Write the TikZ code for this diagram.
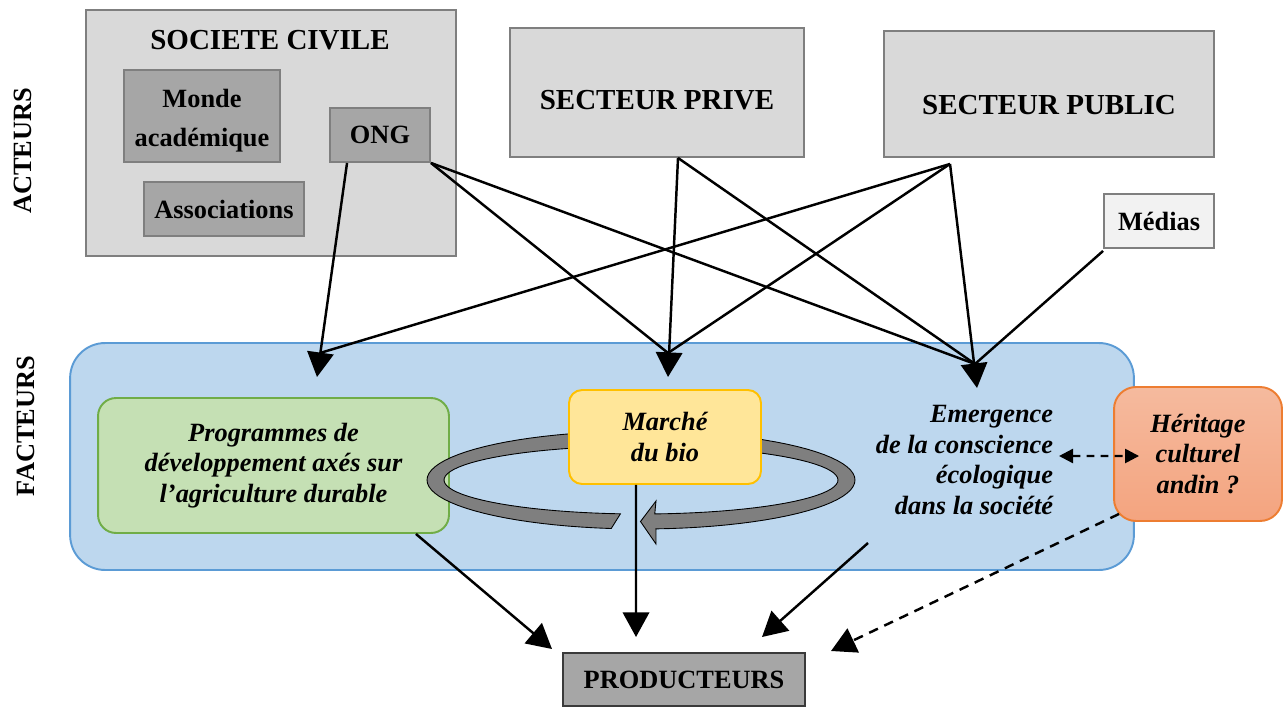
\documentclass[tikz,border=0pt]{standalone}
\usepackage{fontspec}
\setmainfont{Liberation Serif}
\usepackage{tikz}
\usetikzlibrary{arrows.meta,positioning,calc}
\definecolor{actline}{HTML}{7F7F7F}
\definecolor{actfill}{HTML}{D9D9D9}
\definecolor{subfill}{HTML}{A6A6A6}
\definecolor{mediafill}{HTML}{F2F2F2}
\definecolor{prodline}{HTML}{3A3A3A}
\definecolor{bluefill}{HTML}{BDD7EE}
\definecolor{blueline}{HTML}{5B9BD5}
\definecolor{greenfill}{HTML}{C5E0B4}
\definecolor{greenline}{HTML}{70AD47}
\definecolor{yellowfill}{HTML}{FFE699}
\definecolor{yellowline}{HTML}{FFC000}
\definecolor{orangetop}{HTML}{F5BA9E}
\definecolor{orangebot}{HTML}{F4A47F}
\definecolor{orangeline}{HTML}{ED7D31}
\definecolor{ringgray}{HTML}{7F7F7F}
\tikzset{
  >={Triangle[length=14pt,width=15pt]},
  flow/.style={->,draw=black,line width=1.4pt},
  link/.style={draw=black,line width=1.4pt},
  dashedflow/.style={->,draw=black,line width=1.4pt,dash pattern=on 5.5pt off 4pt},
  dblflow/.style={{Triangle[length=8pt,width=8pt]}-{Triangle[length=8pt,width=8pt]},
                  draw=black,line width=1.4pt,dash pattern=on 4.5pt off 3.5pt},
  actor/.style={draw=actline,fill=actfill,line width=1.1pt,inner sep=0pt,align=center,
                font=\fontsize{16.5}{19}\selectfont\bfseries},
  subactor/.style={actor,fill=subfill,font=\fontsize{15}{22.5}\selectfont\bfseries},
  factor/.style={line width=1.1pt,inner sep=0pt,align=center,
                 font=\fontsize{15}{17.5}\selectfont\bfseries\itshape},
  sidelabel/.style={rotate=90,font=\fontsize{15}{17}\selectfont\bfseries},
  ring/.style={fill=ringgray,draw=black,line width=0.5pt},
}

\begin{document}
\begin{tikzpicture}[x=0.02cm,y=-0.02cm]
  \useasboundingbox (0,0) rectangle (1283,706);

  % acteurs
  \node[sidelabel] (lblact) at (23,151) {ACTEURS};
  \node[actor,minimum width=7.4cm,minimum height=4.92cm] (civile) at (271,133) {};
  \node[actor,draw=none,fill=none] (civtitle) at (270,40) {SOCIETE CIVILE};
  \node[subactor,minimum width=3.12cm,minimum height=1.84cm,text height=38.4pt] (monde) at (202,116) {Monde\\académique};
  \node[subactor,minimum width=2cm,minimum height=1.08cm] (ong) at (380,135) {ONG};
  \node[subactor,minimum width=3.2cm,minimum height=1.08cm] (assoc) at (224,209) {Associations};
  \node[actor,minimum width=5.88cm,minimum height=2.58cm,text height=19.7pt] (prive) at (657,92.5) {SECTEUR PRIVE};
  \node[actor,minimum width=6.6cm,minimum height=2.52cm,text height=23.2pt] (public) at (1049,94) {SECTEUR PUBLIC};
  \node[subactor,fill=mediafill,minimum width=2.2cm,minimum height=1.08cm] (medias) at (1159,221) {Médias};

  % facteurs
  \node[sidelabel] (lblfac) at (26,426) {FACTEURS};
  \node[draw=blueline,fill=bluefill,line width=1.1pt,rounded corners=0.7cm,
        minimum width=21.28cm,minimum height=4.54cm] (facteurs) at (602,456.5) {};
  \node[factor,draw=greenline,fill=greenfill,rounded corners=0.36cm,
        minimum width=7.02cm,minimum height=2.7cm] (green) at (273.5,465.5)
        {Programmes de\\développement axés sur\\l’agriculture durable};
  \draw[ring] plot[domain=98:446,samples=90] ({641+214*cos(\x)},{480+49*sin(\x)})
    -- (656,544) -- (640.5,521.5) -- (656,501)
    -- plot[domain=446:96,samples=90] ({641+197*cos(\x)},{480+34*sin(\x)}) -- cycle;
  \node[factor,draw=yellowline,fill=yellowfill,rounded corners=0.26cm,
        minimum width=3.84cm,minimum height=1.88cm] (marche) at (665,437) {Marché\\du bio};
  \node[factor,align=right,anchor=east] (emerg) at (1054,460)
        {Emergence\\de la conscience\\écologique\\dans la société};
  \node[factor,draw=orangeline,top color=orangetop,bottom color=orangebot,rounded corners=0.44cm,
        minimum width=3.36cm,minimum height=2.68cm] (herit) at (1198,454) {Héritage\\culturel\\andin ?};
  \node[subactor,draw=prodline,line width=1.4pt,minimum width=4.84cm,minimum height=1.06cm] (prod)
        at (684,679.5) {PRODUCTEURS};

  \coordinate (tprog) at (317,377);
  \coordinate (bprog) at (320,353);
  \coordinate (tmarche) at (668,377);
  \coordinate (bmarche) at (668,353);
  \coordinate (temerg) at (977,388);
  \coordinate (bemerg) at (975,364);
  \coordinate (emfoot) at (868,543);
  \coordinate (tprodl) at (552,649);
  \coordinate (tprodm) at (636,637);
  \coordinate (tprodr) at (762,637);
  \coordinate (tprodh) at (831,651);

  % acteurs -> facteurs
  \draw[flow] ([xshift=0.36cm]ong.south west) -- (tprog);
  \draw[link] (ong.south east) -- (bmarche);
  \draw[link] (ong.south east) -- (bemerg);
  \draw[flow] ([xshift=0.42cm]prive.south) -- (tmarche);
  \draw[link] ([xshift=0.42cm]prive.south) -- (bemerg);
  \draw[link] ([xshift=-1.98cm,yshift=-0.12cm]public.south) -- (bprog);
  \draw[link] ([xshift=-1.98cm,yshift=-0.12cm]public.south) -- (bmarche);
  \draw[flow] ([xshift=-1.98cm,yshift=-0.12cm]public.south) -- (temerg);
  \draw[link] ([yshift=-0.04cm]medias.south west) -- (bemerg);

  % facteurs -> producteurs
  \draw[flow] ([xshift=-0.68cm]green.south east) -- (tprodl);
  \draw[flow] ([xshift=-0.58cm]marche.south) -- (tprodm);
  \draw[flow] (emfoot) -- (tprodr);
  \draw[dashedflow] ([xshift=0.12cm,yshift=0.16cm]herit.south west) -- (tprodh);
  \draw[dblflow] ([xshift=0.1cm,yshift=0.08cm]emerg.east) -- ([xshift=0.52cm,yshift=-0.04cm]herit.west);
\end{tikzpicture}
\end{document}
